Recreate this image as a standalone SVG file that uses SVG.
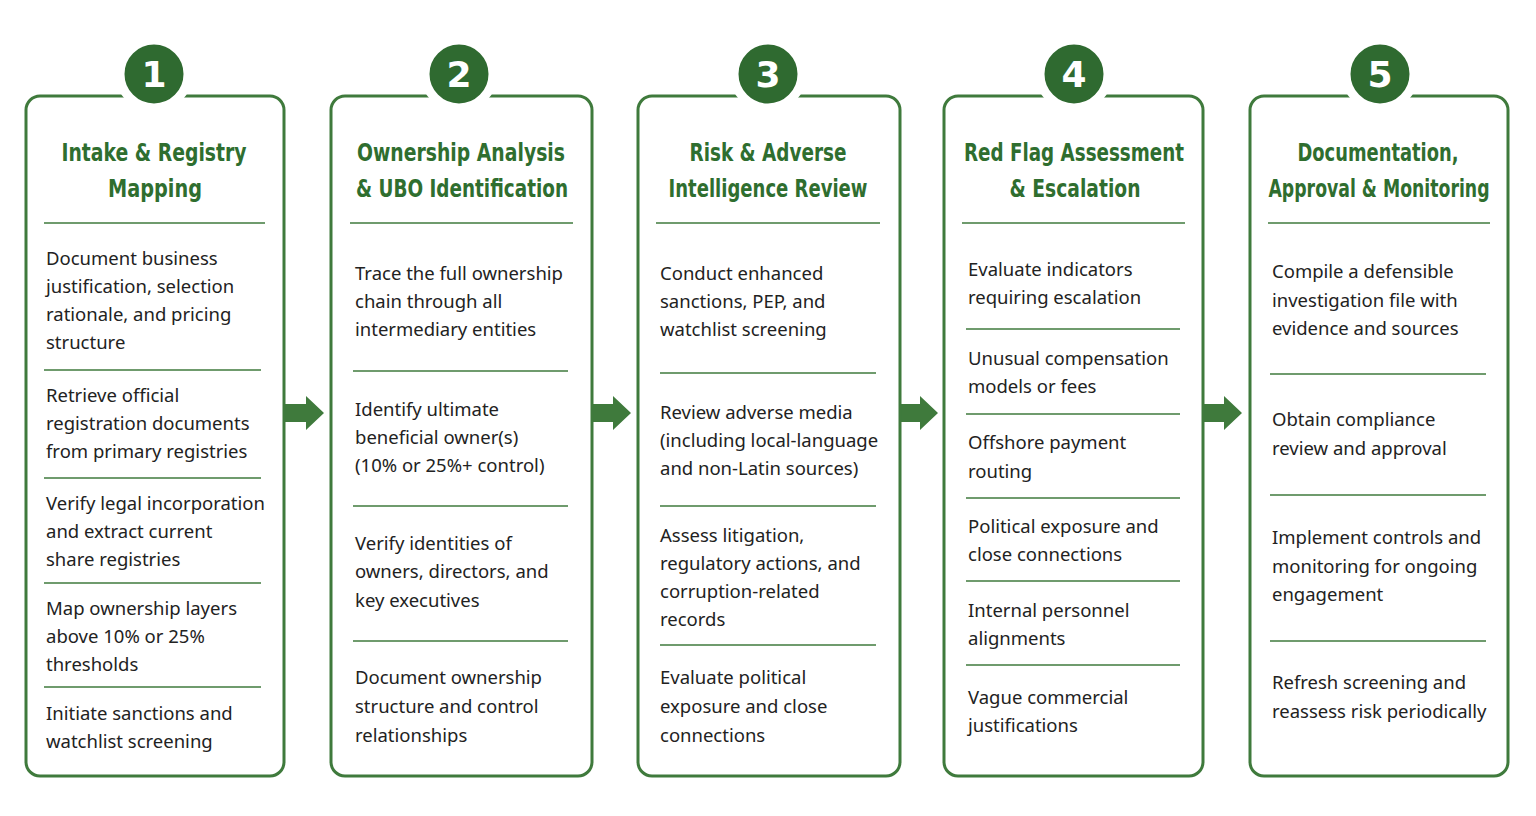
<svg xmlns="http://www.w3.org/2000/svg" width="1536" height="816" viewBox="0 0 1536 816">
<style>
.card{fill:#fff;stroke:#3f7a3c;stroke-width:3}
.badge{fill:#2f6a30;stroke:#fff;stroke-width:9}
.num{fill:#fff;font-family:"DejaVu Sans",sans-serif;font-weight:bold;font-size:36px;text-anchor:middle}
.title{fill:#2f6e2f;font-family:"DejaVu Sans",sans-serif;font-weight:bold;font-size:25px;text-anchor:middle}
.t{fill:#222;font-family:"Noto Sans","Open Sans",sans-serif;font-size:18.5px}
.hr{stroke:#3f7a3c;stroke-width:1.5}
.arr{fill:#3f7a3c}
</style>
<rect width="1536" height="816" fill="#fff"/>
<g id="connectors">
<polygon class="arr" points="284,404 306,404 306,396 324,413 306,430 306,422 284,422"/>
<polygon class="arr" points="592,404 613,404 613,396 631,413 613,430 613,422 592,422"/>
<polygon class="arr" points="900,404 920,404 920,396 938,413 920,430 920,422 900,422"/>
<polygon class="arr" points="1203,404 1224,404 1224,396 1242,413 1224,430 1224,422 1203,422"/>
</g>
<g id="step1">
<rect class="card" x="26" y="96" width="258" height="680" rx="14"/>
<circle class="badge" cx="154" cy="74" r="34"/><text class="num" x="154" y="87">1</text>
<text class="title" x="154" y="161" textLength="185" lengthAdjust="spacingAndGlyphs">Intake &amp; Registry</text><text class="title" x="155" y="197" textLength="94" lengthAdjust="spacingAndGlyphs">Mapping</text>
<line class="hr" x1="44" y1="223" x2="265" y2="223"/>
<text class="t" x="46"><tspan x="46" y="265">Document business</tspan><tspan x="46" y="293">justification, selection</tspan><tspan x="46" y="321">rationale, and pricing</tspan><tspan x="46" y="349">structure</tspan></text>
<line class="hr" x1="44" y1="370" x2="261" y2="370"/>
<text class="t"><tspan x="46" y="402">Retrieve official</tspan><tspan x="46" y="430">registration documents</tspan><tspan x="46" y="458">from primary registries</tspan></text>
<line class="hr" x1="44" y1="478" x2="261" y2="478"/>
<text class="t"><tspan x="46" y="510">Verify legal incorporation</tspan><tspan x="46" y="538">and extract current</tspan><tspan x="46" y="566">share registries</tspan></text>
<line class="hr" x1="44" y1="583" x2="261" y2="583"/>
<text class="t"><tspan x="46" y="615">Map ownership layers</tspan><tspan x="46" y="643">above 10% or 25%</tspan><tspan x="46" y="671">thresholds</tspan></text>
<line class="hr" x1="44" y1="687" x2="261" y2="687"/>
<text class="t"><tspan x="46" y="720">Initiate sanctions and</tspan><tspan x="46" y="748">watchlist screening</tspan></text>
</g>
<g id="step2">
<rect class="card" x="331" y="96" width="261" height="680" rx="14"/>
<circle class="badge" cx="459" cy="74" r="34"/><text class="num" x="459" y="87">2</text>
<text class="title" x="461" y="161" textLength="208" lengthAdjust="spacingAndGlyphs">Ownership Analysis</text><text class="title" x="462" y="197" textLength="212" lengthAdjust="spacingAndGlyphs">&amp; UBO Identification</text>
<line class="hr" x1="350" y1="223" x2="573" y2="223"/>
<text class="t"><tspan x="355" y="280">Trace the full ownership</tspan><tspan x="355" y="308">chain through all</tspan><tspan x="355" y="336">intermediary entities</tspan></text>
<line class="hr" x1="353" y1="371" x2="568" y2="371"/>
<text class="t"><tspan x="355" y="416">Identify ultimate</tspan><tspan x="355" y="444">beneficial owner(s)</tspan><tspan x="355" y="472">(10% or 25%+ control)</tspan></text>
<line class="hr" x1="353" y1="506" x2="568" y2="506"/>
<text class="t"><tspan x="355" y="550">Verify identities of</tspan><tspan x="355" y="578">owners, directors, and</tspan><tspan x="355" y="607">key executives</tspan></text>
<line class="hr" x1="353" y1="641" x2="568" y2="641"/>
<text class="t"><tspan x="355" y="684">Document ownership</tspan><tspan x="355" y="713">structure and control</tspan><tspan x="355" y="742">relationships</tspan></text>
</g>
<g id="step3">
<rect class="card" x="638" y="96" width="262" height="680" rx="14"/>
<circle class="badge" cx="768" cy="74" r="34"/><text class="num" x="768" y="87">3</text>
<text class="title" x="768" y="161" textLength="157" lengthAdjust="spacingAndGlyphs">Risk &amp; Adverse</text><text class="title" x="768" y="197" textLength="199" lengthAdjust="spacingAndGlyphs">Intelligence Review</text>
<line class="hr" x1="656" y1="223" x2="880" y2="223"/>
<text class="t"><tspan x="660" y="280">Conduct enhanced</tspan><tspan x="660" y="308">sanctions, PEP, and</tspan><tspan x="660" y="336">watchlist screening</tspan></text>
<line class="hr" x1="660" y1="373" x2="876" y2="373"/>
<text class="t"><tspan x="660" y="419">Review adverse media</tspan><tspan x="660" y="447">(including local-language</tspan><tspan x="660" y="475">and non-Latin sources)</tspan></text>
<line class="hr" x1="660" y1="506" x2="876" y2="506"/>
<text class="t"><tspan x="660" y="542">Assess litigation,</tspan><tspan x="660" y="570">regulatory actions, and</tspan><tspan x="660" y="598">corruption-related</tspan><tspan x="660" y="626">records</tspan></text>
<line class="hr" x1="660" y1="645" x2="876" y2="645"/>
<text class="t"><tspan x="660" y="684">Evaluate political</tspan><tspan x="660" y="713">exposure and close</tspan><tspan x="660" y="742">connections</tspan></text>
</g>
<g id="step4">
<rect class="card" x="944" y="96" width="259" height="680" rx="14"/>
<circle class="badge" cx="1074" cy="74" r="34"/><text class="num" x="1074" y="87">4</text>
<text class="title" x="1074" y="161" textLength="220" lengthAdjust="spacingAndGlyphs">Red Flag Assessment</text><text class="title" x="1075" y="197" textLength="131" lengthAdjust="spacingAndGlyphs">&amp; Escalation</text>
<line class="hr" x1="962" y1="223" x2="1185" y2="223"/>
<text class="t"><tspan x="968" y="276">Evaluate indicators</tspan><tspan x="968" y="304">requiring escalation</tspan></text>
<line class="hr" x1="966" y1="329" x2="1180" y2="329"/>
<text class="t"><tspan x="968" y="365">Unusual compensation</tspan><tspan x="968" y="393">models or fees</tspan></text>
<line class="hr" x1="966" y1="414" x2="1180" y2="414"/>
<text class="t"><tspan x="968" y="449">Offshore payment</tspan><tspan x="968" y="478">routing</tspan></text>
<line class="hr" x1="966" y1="498" x2="1180" y2="498"/>
<text class="t"><tspan x="968" y="533">Political exposure and</tspan><tspan x="968" y="561">close connections</tspan></text>
<line class="hr" x1="966" y1="581" x2="1180" y2="581"/>
<text class="t"><tspan x="968" y="617">Internal personnel</tspan><tspan x="968" y="645">alignments</tspan></text>
<line class="hr" x1="966" y1="665" x2="1180" y2="665"/>
<text class="t"><tspan x="968" y="704">Vague commercial</tspan><tspan x="968" y="732">justifications</tspan></text>
</g>
<g id="step5">
<rect class="card" x="1250" y="96" width="258" height="680" rx="14"/>
<circle class="badge" cx="1380" cy="74" r="34"/><text class="num" x="1380" y="87">5</text>
<text class="title" x="1378" y="161" textLength="161" lengthAdjust="spacingAndGlyphs">Documentation,</text><text class="title" x="1379" y="197" textLength="221" lengthAdjust="spacingAndGlyphs">Approval &amp; Monitoring</text>
<line class="hr" x1="1268" y1="223" x2="1490" y2="223"/>
<text class="t"><tspan x="1272" y="278">Compile a defensible</tspan><tspan x="1272" y="307">investigation file with</tspan><tspan x="1272" y="335">evidence and sources</tspan></text>
<line class="hr" x1="1270" y1="374" x2="1486" y2="374"/>
<text class="t"><tspan x="1272" y="426">Obtain compliance</tspan><tspan x="1272" y="455">review and approval</tspan></text>
<line class="hr" x1="1270" y1="495" x2="1486" y2="495"/>
<text class="t"><tspan x="1272" y="544">Implement controls and</tspan><tspan x="1272" y="573">monitoring for ongoing</tspan><tspan x="1272" y="601">engagement</tspan></text>
<line class="hr" x1="1270" y1="641" x2="1486" y2="641"/>
<text class="t"><tspan x="1272" y="689">Refresh screening and</tspan><tspan x="1272" y="718">reassess risk periodically</tspan></text>
</g>
</svg>
